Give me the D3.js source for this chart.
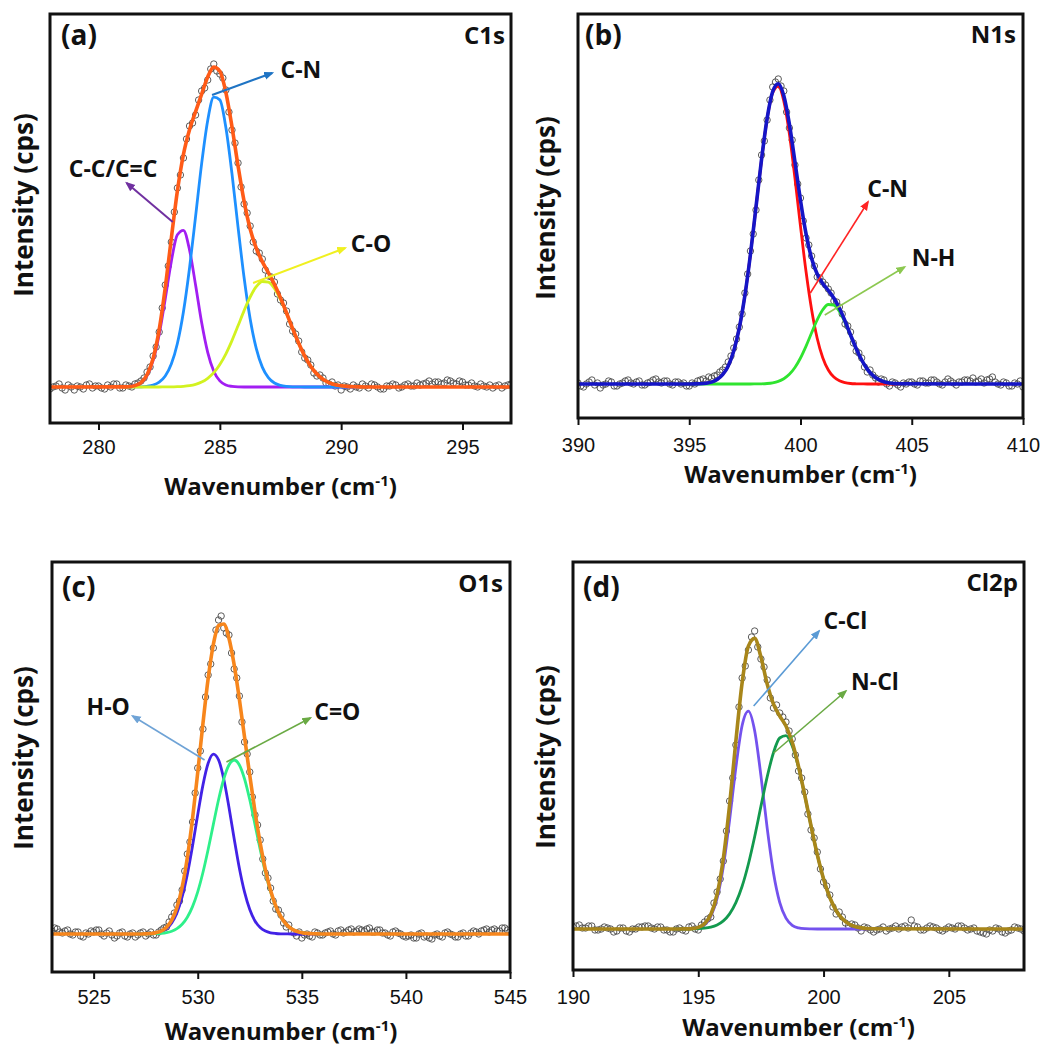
<!DOCTYPE html>
<html>
<head>
<meta charset="utf-8">
<script src="https://cdn.jsdelivr.net/npm/d3@7"></script>
<style>
  body { margin: 0; background: #fff; }
  svg { display: block; }
</style>
</head>
<body>
<script>
// values; intensity is in arbitrary units, 0 = background level

// (a) C1s
const c1sTicks = [280, 285, 290, 295];
const c1sRawEnergy = d3.range(278, 297.001, 0.125);
const c1sRaw = [
  -2, 0, 1, 3, -1, -3, 2, 0,
  -3, 1, 0, -2, 2, 3, -1, 1,
  1, -1, -2, 2, 0, 3, 3, -1,
  -1, 2, 1, 0, 3, 4, 6, 9,
  15, 20, 31, 40, 55, 79, 102, 121,
  145, 175, 199, 212, 229, 248, 261, 264,
  272, 287, 296, 299, 307, 318, 323, 316,
  313, 309, 297, 275, 257, 244, 224, 200,
  183, 174, 161, 145, 136, 134, 128, 117,
  111, 110, 105, 93, 87, 84, 76, 63,
  56, 53, 46, 35, 29, 27, 22, 14,
  11, 12, 9, 4, 3, 5, 1, 2,
  -3, 1, 0, -2, 2, 0, -1, 3,
  1, -1, 3, 2, 0, -2, -2, 1,
  1, 3, 2, -1, 0, 2, 3, 1,
  1, 4, 2, 3, 4, 6, 3, 5,
  5, 3, 4, 7, 6, 4, 3, 6,
  5, 2, 2, 4, 1, 0, 3, 1,
  0, 2, -1, 1, 2, -1, 1, 2,
  3];
const c1sFitEnergy = d3.range(281, 291.001, 0.25);
const c1sEnvelope = [0.1, 0.3, 1.4, 4.4, 12.2, 28.5, 57.4, 99.2, 148.6, 196.0,
  232.7, 257.3, 275.3, 292.8, 310.0, 319.9, 315.7, 294.4, 260.3, 221.2,
  185.6, 158.0, 138.9, 125.4, 114.3, 102.6, 89.1, 74.0, 58.4, 43.7,
  30.8, 20.6, 13.0, 7.8, 4.4, 2.3, 1.2, 0.6, 0.3, 0.1, 0];
const c1sCC = [0.1, 0.3, 1.3, 4.2, 11.5, 26.6, 52.6, 88.1, 125.6, 152.2,
  156.7, 137.1, 102.0, 64.5, 34.7, 15.8, 6.1, 2.0, 0.6, 0.1,
  0, 0, 0, 0, 0, 0, 0, 0, 0, 0, 0, 0, 0, 0, 0, 0, 0, 0, 0, 0, 0];
const c1sCN = [0, 0, 0.1, 0.2, 0.7, 1.9, 4.8, 11.0, 22.9, 43.5,
  75.3, 118.8, 170.6, 223.4, 266.6, 289.8, 287.1, 259.2, 213.3, 159.9,
  109.2, 68.0, 38.6, 19.9, 9.4, 4.0, 1.6, 0.6, 0.2, 0.1,
  0, 0, 0, 0, 0, 0, 0, 0, 0, 0, 0];
const c1sCO = [0, 0, 0, 0, 0, 0, 0, 0.1, 0.1, 0.3,
  0.7, 1.4, 2.7, 4.9, 8.7, 14.3, 22.5, 33.2, 46.4, 61.2,
  76.4, 90.0, 100.3, 105.5, 104.9, 98.6, 87.5, 73.4, 58.2, 43.6,
  30.8, 20.6, 13.0, 7.8, 4.4, 2.3, 1.2, 0.6, 0.3, 0.1, 0];

// (b) N1s
const n1sTicks = [390, 395, 400, 405, 410];
const n1sRawEnergy = d3.range(390, 410.001, 0.125);
const n1sRaw = [
  1, -2, -3, 0, 2, 4, -1, 1,
  -4, -1, 0, 3, 2, -2, -2, 0,
  1, 3, 4, 1, 0, 2, 3, -1,
  -1, 1, 2, 4, 5, 2, 1, 3,
  3, 0, -1, 2, 2, 0, 1, -2,
  -2, 1, 0, 3, 4, 5, 3, 7,
  6, 8, 9, 12, 14, 17, 22, 28,
  36, 45, 57, 70, 91, 110, 133, 150,
  174, 204, 229, 243, 264, 284, 297, 302,
  305, 298, 293, 272, 256, 244, 219, 200,
  186, 163, 146, 139, 128, 118, 107, 106,
  102, 99, 95, 91, 83, 82, 77, 70,
  60, 58, 52, 41, 33, 31, 26, 17,
  12, 14, 9, 6, 2, 5, 4, 0,
  -2, 2, 1, -1, -3, 1, 0, 2,
  2, 0, -1, 3, 3, 1, 1, 4,
  4, 2, 0, -1, 2, 5, 3, 1,
  -1, 2, 2, 4, 4, 3, 6, 2,
  3, 5, 1, 4, 5, 7, 2, 0,
  -1, 2, 1, -2, -2, 1, 0, 3,
  -3];
const n1sFitEnergy = d3.range(394.5, 404.501, 0.25);
const n1sEnvelope = [0, 0, 0, 0.1, 0.3, 0.8, 1.9, 4.4, 9.3, 18.1,
  33.1, 56.1, 88.4, 129.6, 177.0, 224.7, 265.6, 292.4, 300.2, 288.2,
  259.9, 222.3, 183.6, 150.1, 125.5, 109.9, 100.5, 93.5, 85.8, 75.7,
  63.0, 49.0, 35.6, 24.0, 14.9, 8.6, 4.6, 2.3, 1.0, 0.4, 0.2];
const n1sCN = [0, 0, 0, 0.1, 0.3, 0.8, 1.9, 4.4, 9.3, 18.1,
  33.1, 56.1, 88.4, 129.6, 176.9, 224.5, 265.1, 291.2, 297.6, 282.9,
  250.2, 205.8, 157.6, 112.2, 74.3, 45.8, 26.3, 14.0, 6.9, 3.2,
  1.4, 0.5, 0.2, 0.1, 0, 0, 0, 0, 0, 0, 0];
const n1sNH = [0, 0, 0, 0, 0, 0, 0, 0, 0, 0, 0, 0, 0,
  0, 0.1, 0.2, 0.5, 1.2, 2.6, 5.3, 9.7, 16.5, 26.0, 37.9, 51.2, 64.1, 74.2, 79.5,
  78.9, 72.5, 61.6, 48.5, 35.4, 23.9, 14.9, 8.6, 4.6, 2.3, 1.0, 0.4, 0.2];

// (c) O1s
const o1sTicks = [525, 530, 535, 540, 545];
const o1sRawEnergy = d3.range(523, 545.001, 0.125);
const o1sRaw = [
  3, 6, 5, 2, 1, 3, 4, 0,
  -1, 2, 2, -2, -3, 1, 0, 3,
  2, 4, 4, 0, -2, 1, 3, -1,
  -4, -2, 1, 2, -2, -3, 0, 1,
  -3, -1, 1, 2, -2, 0, 2, -1,
  -1, 2, 4, 6, 7, 12, 17, 21,
  29, 33, 44, 63, 80, 92, 112, 141,
  166, 183, 205, 237, 259, 270, 286, 304,
  314, 318, 306, 301, 299, 281, 265, 256,
  238, 212, 192, 180, 162, 137, 119, 109,
  94, 75, 61, 56, 46, 33, 25, 24,
  19, 11, 7, 9, 3, 1, -2, 2,
  -4, -1, 0, -2, -3, 2, 1, -1,
  -1, 1, 2, 3, 0, -1, 3, 4,
  1, 2, 4, 5, 2, 3, 5, 4,
  3, 5, 6, 2, 2, 4, 4, 1,
  1, -1, -2, 2, 3, 1, 0, -2,
  -3, -2, -1, -4, -4, 0, 1, -3,
  -2, -4, -5, -1, 0, -2, -3, 1,
  2, 0, -1, -3, -3, 0, 1, -2,
  -2, 1, 3, 2, 0, 3, 4, 5,
  2, 4, 5, 3, 3, 6, 6, 4,
  2];
const o1sFitEnergy = d3.range(527, 536.001, 0.25);
const o1sEnvelope = [0, 0, 0.1, 0.5, 1.3, 3.0, 6.7, 13.8, 26.4, 46.7,
  76.3, 115.3, 161.5, 210.4, 255.2, 289.5, 308.4, 310.0, 295.8, 269.3,
  234.8, 196.8, 158.6, 122.6, 90.9, 64.4, 43.4, 27.9, 17.0, 9.8,
  5.3, 2.7, 1.3, 0.6, 0.3, 0.1, 0];
const o1sHO = [0, 0, 0.1, 0.4, 1.0, 2.4, 5.4, 11.1, 21.1, 37.0,
  59.5, 87.9, 119.3, 148.9, 170.7, 179.9, 174.2, 155.0, 126.8, 95.3,
  65.8, 41.8, 24.4, 13.0, 6.4, 2.9, 1.2, 0.5, 0.2, 0.1,
  0, 0, 0, 0, 0, 0, 0];
const o1sCO = [0, 0, 0, 0.1, 0.3, 0.6, 1.3, 2.7, 5.3, 9.7,
  16.8, 27.4, 42.2, 61.5, 84.5, 109.6, 134.2, 155.0, 169.0, 174.0,
  169.0, 155.0, 134.2, 109.6, 84.5, 61.5, 42.2, 27.4, 16.8, 9.7,
  5.3, 2.7, 1.3, 0.6, 0.3, 0.1, 0];

// (d) Cl2p
const cl2pTicks = [190, 195, 200, 205];
const cl2pRawEnergy = d3.range(190, 208.001, 0.125);
const cl2pRaw = [
  2, 3, 4, 1, 1, 3, 3, -1,
  -1, 0, 2, 1, 0, -3, -2, 1,
  1, -2, -3, 0, 0, 2, 2, 3,
  3, 1, 0, 2, 2, -1, -1, -3,
  -3, 0, 1, -1, -2, 2, 3, 0,
  -1, 4, 7, 10, 12, 26, 37, 50,
  68, 98, 128, 151, 184, 222, 251, 263,
  279, 292, 298, 282, 270, 262, 249, 231,
  221, 224, 216, 212, 207, 198, 190, 174,
  158, 151, 137, 115, 99, 91, 77, 60,
  47, 43, 34, 22, 15, 17, 12, 6,
  3, 5, 4, 1, -2, 2, 1, -1,
  -3, -1, 0, 2, -2, 0, 1, 3,
  0, 2, 3, 1, 9, 3, 2, -1,
  -1, 1, 3, 2, 1, -1, -2, 0,
  2, 1, 0, 3, 3, 1, -1, 0,
  1, -2, -3, -4, -5, -1, -2, 1,
  0, -3, -4, -2, -1, 2, 1, 0,
  -2];
const cl2pFitEnergy = d3.range(194, 202.001, 0.25);
const cl2pEnvelope = [0, 0, 0.1, 0.4, 1.6, 5.2, 14.5, 34.6, 70.6, 124.1,
  187.8, 246.2, 282.9, 290.6, 272.0, 245.0, 225.0, 213.0, 203.0, 186.6,
  162.7, 133.8, 103.1, 74.3, 50.1, 31.5, 18.5, 10.2, 5.2, 2.5,
  1.1, 0.5, 0.2];
const cl2pCCl = [0, 0, 0.1, 0.3, 1.3, 4.4, 12.6, 30.5, 62.5, 109.0,
  161.5, 203.5, 217.9, 198.3, 153.4, 100.8, 56.3, 26.7, 10.8, 3.7,
  1.1, 0.3, 0.1, 0, 0, 0, 0, 0, 0, 0, 0, 0, 0];
const cl2pNCl = [0, 0, 0, 0.1, 0.3, 0.8, 1.9, 4.1, 8.1, 15.1,
  26.3, 42.7, 65.0, 92.3, 122.6, 152.1, 176.3, 191.0, 193.3, 182.9,
  161.6, 133.5, 103.0, 74.3, 50.1, 31.5, 18.5, 10.2, 5.2, 2.5,
  1.1, 0.5, 0.2];

// ---- layout ----
const panels = [
  {
    id: "a", tag: "(a)", core: "C1s",
    frame: {x0: 50, y0: 14, x1: 511, y1: 423},
    xDomain: [278, 297], yDomain: [-36, 373], ticks: c1sTicks, tickPad: 10,
    rawEnergy: c1sRawEnergy, raw: c1sRaw, fitEnergy: c1sFitEnergy,
    components: [
      {values: c1sCC, color: "#a21ef2"},
      {values: c1sCN, color: "#1e90ff"},
      {values: c1sCO, color: "#d2f220"}
    ],
    envelope: c1sEnvelope, envColor: "#ff5b17",
    notes: [
      {label: "C-N", from: [284.68, 292], to: [287.16, 314], text: [287.5, 318], anchor: "start", color: "#1f74c4", w: 2.2},
      {label: "C-C/C=C", from: [283.06, 165], to: [281.16, 204], text: [280.6, 219], anchor: "middle", color: "#7030a0", w: 2},
      {label: "C-O", from: [286.37, 104], to: [290.17, 139], text: [290.4, 144], anchor: "start", color: "#f0f020", w: 2}
    ],
    tagPos: [11, 31], corePos: [6, 44], xTitleY: 495, yTitle: [-27, 205]
  },
  {
    id: "b", tag: "(b)", core: "N1s",
    frame: {x0: 578, y0: 14, x1: 1023, y1: 418},
    xDomain: [390, 410], yDomain: [-34, 370], ticks: n1sTicks, tickPad: 13,
    rawEnergy: n1sRawEnergy, raw: n1sRaw, fitEnergy: n1sFitEnergy,
    components: [
      {values: n1sCN, color: "#ff1010"},
      {values: n1sNH, color: "#2fe42f"}
    ],
    envelope: n1sEnvelope, envColor: "#1515c6",
    notes: [
      {label: "C-N", from: [400.44, 91], to: [403.03, 182], text: [403.0, 196], anchor: "start", color: "#ff2424", w: 1.6},
      {label: "N-H", from: [401.09, 69], to: [404.68, 117], text: [405.0, 127], anchor: "start", color: "#8cc850", w: 1.6}
    ],
    tagPos: [7, 31], corePos: [7, 43], xTitleY: 483, yTitle: [-33, 208]
  },
  {
    id: "c", tag: "(c)", core: "O1s",
    frame: {x0: 52, y0: 562, x1: 510, y1: 972},
    xDomain: [523, 545], yDomain: [-38, 372], ticks: o1sTicks, tickPad: 11,
    rawEnergy: o1sRawEnergy, raw: o1sRaw, fitEnergy: o1sFitEnergy,
    components: [
      {values: o1sHO, color: "#4222e6"},
      {values: o1sCO, color: "#2ef08a"}
    ],
    envelope: o1sEnvelope, envColor: "#f7861c",
    notes: [
      {label: "H-O", from: [530.33, 174], to: [526.87, 218], text: [525.7, 228], anchor: "middle", color: "#6fa3d6", w: 1.6},
      {label: "C=O", from: [531.38, 172], to: [535.41, 216], text: [535.6, 223], anchor: "start", color: "#6aaa44", w: 1.6}
    ],
    tagPos: [10, 35], corePos: [7, 592], xTitleY: 1040, yTitle: [-29, 758]
  },
  {
    id: "d", tag: "(d)", core: "Cl2p",
    frame: {x0: 573, y0: 562, x1: 1024, y1: 970},
    xDomain: [190, 208], yDomain: [-41, 367], ticks: cl2pTicks, tickPad: 13,
    rawEnergy: cl2pRawEnergy, raw: cl2pRaw, fitEnergy: cl2pFitEnergy,
    components: [
      {values: cl2pCCl, color: "#7452ee"},
      {values: cl2pNCl, color: "#139a4e"}
    ],
    envelope: cl2pEnvelope, envColor: "#a8861a",
    notes: [
      {label: "C-Cl", from: [197.21, 223], to: [199.82, 298], text: [200.0, 309], anchor: "start", color: "#5b9bd5", w: 1.6},
      {label: "N-Cl", from: [198.01, 176], to: [200.89, 238], text: [201.1, 248], anchor: "start", color: "#6aaa44", w: 1.6}
    ],
    tagPos: [10, 35], corePos: [6, 591], xTitleY: 1036, yTitle: [-28, 757]
  }
];

const labelFont = '"Open Sans", "DejaVu Sans", sans-serif';
const tickFont = '"Liberation Sans", Arial, sans-serif';

const svg = d3.select("body").append("svg")
    .attr("width", 1052)
    .attr("height", 1049);
const defs = svg.append("defs");

panels.forEach(function(p) {
  const f = p.frame;
  const x = d3.scaleLinear().domain(p.xDomain).range([f.x0, f.x1]);
  const y = d3.scaleLinear().domain(p.yDomain).range([f.y1, f.y0]);
  const g = svg.append("g");

  defs.append("clipPath").attr("id", "clip-" + p.id)
    .append("rect")
    .attr("x", f.x0).attr("y", f.y0)
    .attr("width", f.x1 - f.x0).attr("height", f.y1 - f.y0);

  const plot = g.append("g").attr("clip-path", `url(#clip-${p.id})`);

  // measured points
  plot.selectAll("circle")
    .data(d3.zip(p.rawEnergy, p.raw))
    .join("circle")
    .attr("cx", d => x(d[0]))
    .attr("cy", d => y(d[1]))
    .attr("r", 3.2)
    .attr("fill", "none")
    .attr("stroke", "#4a4a4a")
    .attr("stroke-width", 0.9);

  const line = d3.line()
    .x(d => x(d[0]))
    .y(d => y(d[1]))
    .curve(d3.curveMonotoneX);

  // fitted components
  p.components.forEach(function(c) {
    plot.append("path")
      .datum(d3.zip(p.fitEnergy, c.values))
      .attr("d", line)
      .attr("fill", "none")
      .attr("stroke", c.color)
      .attr("stroke-width", 2.8);
  });

  // envelope, flat out to the edges of the window
  const env = [[p.xDomain[0], 0]].concat(d3.zip(p.fitEnergy, p.envelope), [[p.xDomain[1], 0]]);
  plot.append("path")
    .datum(env)
    .attr("d", line)
    .attr("fill", "none")
    .attr("stroke", p.envColor)
    .attr("stroke-width", 3.6);

  // annotations
  p.notes.forEach(function(n, i) {
    const mid = `arrow-${p.id}-${i}`;
    defs.append("marker")
      .attr("id", mid)
      .attr("viewBox", "0 0 10 10")
      .attr("refX", 8).attr("refY", 5)
      .attr("markerUnits", "userSpaceOnUse")
      .attr("markerWidth", 10).attr("markerHeight", 10)
      .attr("orient", "auto")
      .append("path")
      .attr("d", "M0,1 L10,5 L0,9 Z")
      .attr("fill", n.color);
    g.append("line")
      .attr("x1", x(n.from[0])).attr("y1", y(n.from[1]))
      .attr("x2", x(n.to[0])).attr("y2", y(n.to[1]))
      .attr("stroke", n.color)
      .attr("stroke-width", n.w)
      .attr("marker-end", `url(#${mid})`);
    g.append("text")
      .attr("x", x(n.text[0])).attr("y", y(n.text[1]))
      .attr("text-anchor", n.anchor)
      .attr("dominant-baseline", "central")
      .style("font-family", labelFont)
      .style("font-weight", "bold")
      .style("font-size", "23px")
      .attr("fill", "#111")
      .text(n.label);
  });

  // frame
  g.append("rect")
    .attr("x", f.x0).attr("y", f.y0)
    .attr("width", f.x1 - f.x0).attr("height", f.y1 - f.y0)
    .attr("fill", "none")
    .attr("stroke", "#111")
    .attr("stroke-width", 3);

  // x axis
  const ax = g.append("g")
    .attr("transform", `translate(0,${f.y1})`)
    .call(d3.axisBottom(x).tickValues(p.ticks).tickSize(7).tickSizeOuter(0).tickPadding(p.tickPad));
  ax.select(".domain").remove();
  ax.selectAll(".tick line").attr("stroke", "#111").attr("stroke-width", 2);
  ax.selectAll(".tick text")
    .style("font-family", tickFont)
    .style("font-size", "20px")
    .attr("fill", "#111");

  // titles
  const xt = g.append("text")
    .attr("x", (f.x0 + f.x1) / 2)
    .attr("y", p.xTitleY)
    .attr("text-anchor", "middle")
    .style("font-family", labelFont)
    .style("font-weight", "bold")
    .style("font-size", "24px")
    .attr("fill", "#111");
  xt.append("tspan").text("Wavenumber (cm");
  xt.append("tspan").attr("dy", -9).style("font-size", "15px").text("-1");
  xt.append("tspan").attr("dy", 9).text(")");

  g.append("text")
    .attr("transform", `translate(${f.x0 + p.yTitle[0]},${p.yTitle[1]}) rotate(-90)`)
    .attr("text-anchor", "middle")
    .attr("dominant-baseline", "central")
    .style("font-family", labelFont)
    .style("font-weight", "bold")
    .style("font-size", "26px")
    .attr("fill", "#111")
    .text("Intensity (cps)");

  g.append("text")
    .attr("x", f.x0 + p.tagPos[0])
    .attr("y", f.y0 + p.tagPos[1])
    .style("font-family", labelFont)
    .style("font-weight", "bold")
    .style("font-size", "28px")
    .attr("fill", "#111")
    .text(p.tag);

  g.append("text")
    .attr("x", f.x1 - p.corePos[0])
    .attr("y", p.corePos[1])
    .attr("text-anchor", "end")
    .style("font-family", labelFont)
    .style("font-weight", "bold")
    .style("font-size", "24px")
    .attr("fill", "#111")
    .text(p.core);
});
</script>
</body>
</html>
